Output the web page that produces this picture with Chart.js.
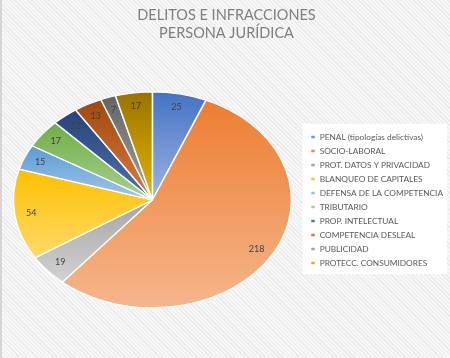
<!DOCTYPE html>
<html>
<head>
<meta charset="utf-8">
<script src="https://cdn.jsdelivr.net/npm/chart.js@4.4.1/dist/chart.umd.min.js"></script>
<style>
  html, body { margin: 0; padding: 0; }
  body {
    width: 450px; height: 358px; overflow: hidden;
    background: repeating-linear-gradient(45deg, #f7f7f7 0px, #f7f7f7 2px, #eaeaea 2px, #eaeaea 3px);
  }
  #wrap { position: relative; width: 450px; height: 358px; box-shadow: inset 2px 0 0 #d6d6d6; }
</style>
</head>
<body>
<div id="wrap"><canvas id="grafico" width="450" height="358"></canvas></div>
<script>
const categorias = ["PENAL (tipologías delictivas)", "SOCIO-LABORAL", "PROT. DATOS Y PRIVACIDAD", "BLANQUEO DE CAPITALES",
    "DEFENSA DE LA COMPETENCIA", "TRIBUTARIO", "PROP. INTELECTUAL", "COMPETENCIA DESLEAL", "PUBLICIDAD", "PROTECC. CONSUMIDORES"];
const valores = [25, 218, 19, 54, 15, 17, 12, 13, 7, 17];
const coloresArriba = ["#4472C4", "#ED7D31", "#A5A5A5", "#FFC000", "#5B9BD5", "#70AD47", "#264478", "#9E480E", "#636363", "#997300"];
const coloresAbajo = ["#9DB5E3", "#F5B68C", "#D2D2D2", "#FFDA6A", "#A3C6E8", "#A9D18E", "#5272B0", "#E27B3A", "#A3A3A3", "#E8B300"];

const RADIO = 139;
const ESCALA_Y = 108 / 139;

function gradienteSector(context) {
    let chart = context.chart;
    let area = chart.chartArea;
    let i = context.dataIndex;
    if (!area) return coloresArriba[i];
    let cx = (area.left + area.right) / 2;
    let cy = (area.top + area.bottom) / 2;
    let total = valores.reduce((a, b) => a + b, 0);
    let acum = 0;
    for (let k = 0; k < i; k++) acum += valores[k];
    let a0 = -Math.PI / 2 + 2 * Math.PI * acum / total;
    let a1 = a0 + 2 * Math.PI * valores[i] / total;
    let minY = cy, maxY = cy;
    for (let s = 0; s <= 40; s++) {
        let a = a0 + (a1 - a0) * s / 40;
        let y = cy + Math.sin(a) * RADIO;
        minY = Math.min(minY, y);
        maxY = Math.max(maxY, y);
    }
    let g = chart.ctx.createLinearGradient(0, minY, 0, maxY);
    g.addColorStop(0, coloresArriba[i]);
    g.addColorStop(1, coloresAbajo[i]);
    return g;
}

// achata la tarta para que quede como en la imagen original
const elipse = {
    id: 'elipse',
    beforeDraw(chart) {
        // fondo blanco detras de la leyenda
        let cajas = chart.legend.legendHitBoxes;
        if (!cajas || !cajas.length) return;
        let top = Math.min(...cajas.map(c => c.top)) - 9;
        let bottom = Math.max(...cajas.map(c => c.top + c.height)) + 7;
        let left = Math.min(...cajas.map(c => c.left)) - 8;
        let ctx = chart.ctx;
        ctx.save();
        ctx.fillStyle = '#ffffff';
        ctx.fillRect(left, top, chart.width - 3 - left, bottom - top);
        ctx.restore();
    },
    beforeDatasetsDraw(chart) {
        let arc = chart.getDatasetMeta(0).data[0];
        let ctx = chart.ctx;
        ctx.save();
        ctx.translate(arc.x, arc.y);
        ctx.scale(1, ESCALA_Y);
        ctx.translate(-arc.x, -arc.y);
    },
    afterDatasetsDraw(chart) {
        let ctx = chart.ctx;
        ctx.restore();
        ctx.save();
        ctx.font = '9px Lato';
        ctx.fillStyle = '#404040';
        ctx.textAlign = 'center';
        ctx.textBaseline = 'middle';
        chart.getDatasetMeta(0).data.forEach((arc, i) => {
            let a = (arc.startAngle + arc.endAngle) / 2;
            let r = arc.outerRadius * 0.88;
            let x = arc.x + Math.cos(a) * r;
            let y = arc.y + Math.sin(a) * r * ESCALA_Y;
            ctx.fillText(valores[i], x, y);
        });
        ctx.restore();
    }
};

new Chart(document.getElementById('grafico'), {
    type: 'pie',
    data: {
        labels: categorias,
        datasets: [{
            data: valores,
            backgroundColor: gradienteSector,
            borderColor: '#ffffff',
            borderWidth: 1.5
        }]
    },
    options: {
        responsive: false,
        animation: false,
        radius: RADIO,
        layout: { padding: { left: 0, right: -3, top: 0, bottom: 8 } },
        plugins: {
            title: {
                display: true,
                text: ['DELITOS E INFRACCIONES', 'PERSONA JURÍDICA'],
                color: '#7f7f7f',
                font: { family: 'Lato', size: 14.5, weight: 'normal', lineHeight: 1.2 },
                padding: { top: 7, bottom: 8 }
            },
            legend: {
                position: 'right',
                fullSize: false,
                labels: {
                    boxWidth: 5,
                    boxHeight: 4,
                    color: '#595959',
                    padding: 5.7,
                    font: { family: 'Lato', size: 8.3 }
                }
            },
            tooltip: { enabled: false }
        }
    },
    plugins: [elipse]
});
</script>
</body>
</html>
